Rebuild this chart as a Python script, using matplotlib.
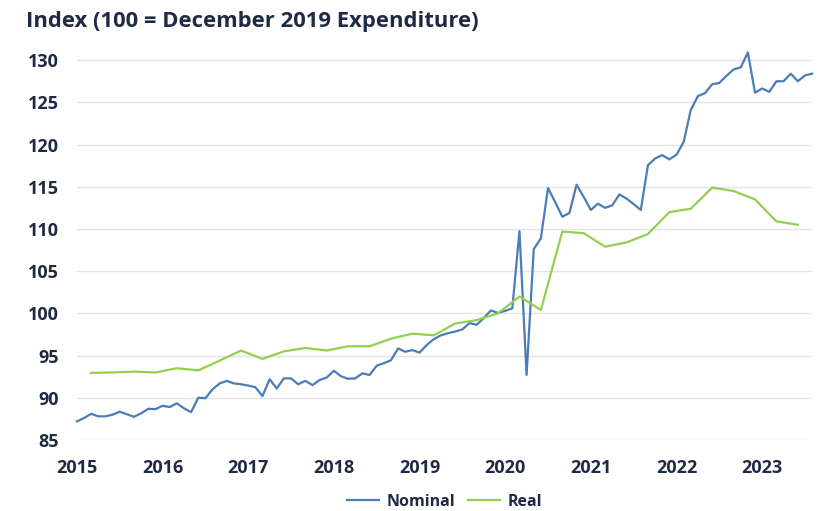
import matplotlib
matplotlib.use("Agg")
import matplotlib.pyplot as plt

# ---- data ----
years = ["2015", "2016", "2017", "2018", "2019", "2020", "2021", "2022", "2023"]

# monthly, Jan 2015 .. Aug 2023
nominal = [
    87.2, 87.6, 88.1, 87.8, 87.8, 88.0, 88.35, 88.05, 87.75, 88.15, 88.7, 88.65,
    89.05, 88.9, 89.35, 88.75, 88.3, 90.0, 89.95, 91.0, 91.7, 92.0, 91.7, 91.6,
    91.45, 91.25, 90.2, 92.2, 91.1, 92.3, 92.3, 91.6, 92.0, 91.5, 92.1, 92.4,
    93.2, 92.55, 92.25, 92.3, 92.9, 92.7, 93.8, 94.1, 94.45, 95.85, 95.45, 95.65,
    95.35, 96.25, 96.95, 97.4, 97.65, 97.85, 98.1, 98.85, 98.65, 99.45, 100.35, 100.05,
    100.3, 100.6, 109.75, 92.7, 107.6, 108.9, 114.85, 113.2, 111.45, 111.9, 115.25, 113.8,
    112.25, 113.0, 112.5, 112.8, 114.1, 113.6, 112.95, 112.25, 117.55, 118.35, 118.75, 118.25,
    118.8, 120.3, 124.1, 125.75, 126.1, 127.15, 127.3, 128.15, 128.9, 129.15, 130.9, 126.15,
    126.65, 126.25, 127.5, 127.5, 128.4, 127.5, 128.2, 128.4,
]

# quarterly, Mar 2015 .. Jun 2023
real = [
    92.95, 93.0, 93.1, 93.0, 93.5, 93.25, 94.4, 95.6, 94.6, 95.5, 95.9, 95.6,
    96.1, 96.1, 97.0, 97.6, 97.4, 98.8, 99.2, 100.0, 102.0, 100.4, 109.7, 109.5,
    107.9, 108.4, 109.4, 112.0, 112.4, 114.9, 114.5, 113.5, 110.9, 110.5,
]

nominal_x = list(range(len(nominal)))
real_x = [2 + 3 * k for k in range(len(real))]
year_ticks = [12 * k for k in range(len(years))]

y_ticks = [85, 90, 95, 100, 105, 110, 115, 120, 125, 130]

# ---- style ----
TEXT = "#1f2a44"
BLUE = "#4a7cb9"
GREEN = "#92d050"
FONT = ["Open Sans", "DejaVu Sans"]
plt.rcParams["font.family"] = FONT

fig = plt.figure(figsize=(8.27, 5.11), dpi=100)
ax = fig.add_axes([0.093, 0.139, 0.889, 0.768])

ax.plot(nominal_x, nominal, color=BLUE, lw=1.6, label="Nominal", clip_on=False)
ax.plot(real_x, real, color=GREEN, lw=1.6, label="Real", clip_on=False)

ax.set_xlim(0, 103)
ax.set_ylim(85, 131.5)
ax.set_yticks(y_ticks)
ax.set_xticks(year_ticks)
ax.set_xticklabels(years)

for s in ax.spines.values():
    s.set_visible(False)
ax.grid(axis="y", color="#e4e4e4", lw=1.0)
ax.set_axisbelow(True)
ax.tick_params(axis="both", length=0, labelsize=13, labelcolor=TEXT)
ax.tick_params(axis="y", pad=13)
ax.tick_params(axis="x", pad=14)
for lab in ax.get_xticklabels() + ax.get_yticklabels():
    lab.set_fontweight("bold")

fig.text(0.031, 0.958, "Index (100 = December 2019 Expenditure)", fontsize=15.8,
         fontweight="bold", color=TEXT, ha="left", va="center")

leg = fig.legend(loc="center", bbox_to_anchor=(0.5375, 0.018), ncol=2, frameon=False,
                 handlelength=2.0, handletextpad=0.5, columnspacing=0.8,
                 prop={"size": 11.5, "weight": "bold", "family": FONT})
for t in leg.get_texts():
    t.set_color(TEXT)

fig.savefig("out.png", dpi=100)
